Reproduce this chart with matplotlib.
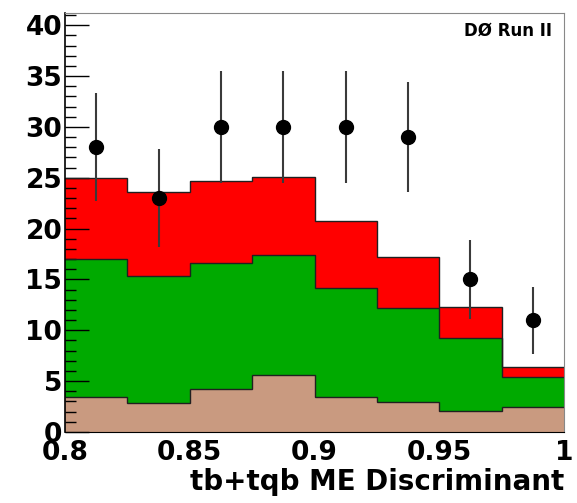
import matplotlib
matplotlib.use("Agg")
import matplotlib.pyplot as plt
import numpy as np
from matplotlib.ticker import MultipleLocator

# bin edges of the discriminant
edges = np.linspace(0.8, 1.0, 9)

# background components (stacked), events per bin
brown = [3.45, 2.85, 4.2, 5.6, 3.45, 2.95, 2.1, 2.5]
green = [13.55, 12.45, 12.4, 11.8, 10.75, 9.25, 7.1, 2.9]
red = [8.0, 8.3, 8.1, 7.7, 6.5, 5.0, 3.1, 1.0]

# data
data_y = [28, 23, 30, 30, 30, 29, 15, 11]
data_err = [5.3, 4.8, 5.5, 5.5, 5.5, 5.4, 3.9, 3.3]

plt.rcParams['font.family'] = ['DejaVu Sans']

fig = plt.figure(figsize=(5.77, 5.03), dpi=100)
ax = fig.add_axes([65 / 577, 1 - 432 / 503, 499 / 577, 419 / 503])

tops = np.cumsum([brown, green, red], axis=0)
colors = ["#c99a80", "#00aa00", "#ff0000"]
for top, col in zip(tops[::-1], colors[::-1]):
    ax.stairs(top, edges, fill=True, color=col, baseline=0, zorder=1)
    ax.stairs(top, edges, color="#202020", linewidth=1.0, baseline=None, zorder=2)

centers = 0.5 * (edges[:-1] + edges[1:])
ax.errorbar(centers, data_y, yerr=data_err, fmt="o", color="black", ecolor="#3a3a3a",
            markersize=10, elinewidth=1.5, capsize=0, zorder=3)

ax.set_xlim(0.8, 1.0)
ax.set_ylim(0, 41.2)
ax.set_xticks([0.8, 0.85, 0.9, 0.95, 1.0])
ax.set_xticklabels(["0.8", "0.85", "0.9", "0.95", "1"])
ax.yaxis.set_major_locator(MultipleLocator(5))
ax.yaxis.set_minor_locator(MultipleLocator(1))
ax.tick_params(axis="y", which="major", direction="in", length=17, width=1, pad=2,
               labelsize=19)
ax.tick_params(axis="y", which="minor", direction="in", length=8, width=1)
ax.tick_params(axis="x", which="both", length=0, labelsize=19, pad=6)
for lab in ax.get_xticklabels() + ax.get_yticklabels():
    lab.set_fontweight("bold")

ax.spines["top"].set_color("#888888")
ax.spines["right"].set_color("#888888")
ax.spines["left"].set_linewidth(1.2)

ax.set_xlabel("tb+tqb ME Discriminant", fontsize=20, fontweight="bold",
              loc="right", labelpad=1)
ax.text(0.975, 0.98, "DØ Run II", transform=ax.transAxes, ha="right", va="top",
        fontsize=12, fontweight="bold")

fig.savefig("out.png", dpi=100)
